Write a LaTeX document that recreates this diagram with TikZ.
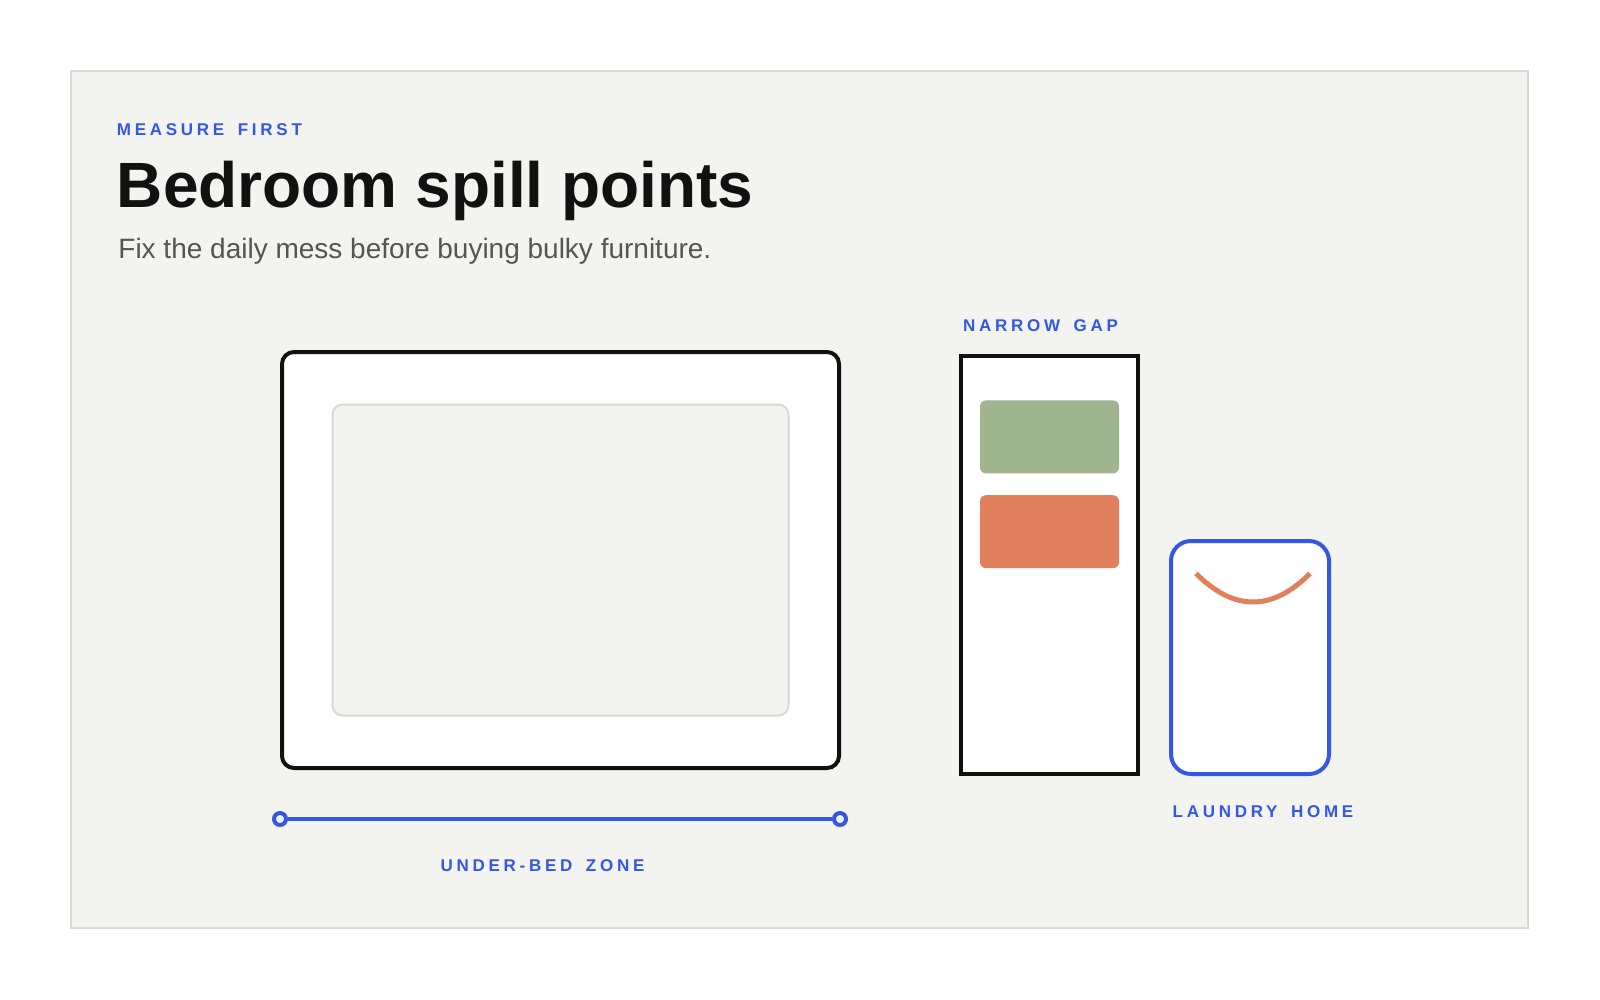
\documentclass[tikz,border=0pt]{standalone}
\usepackage{fontspec}
\setmainfont{Liberation Sans}
\newfontfamily\tagfont[LetterSpace=22,WordSpace=1.6]{Liberation Sans}
\usepackage{tikz}
\usetikzlibrary{positioning, calc}
\usepackage{xcolor}
\definecolor{tagBlue}{HTML}{3457E6}
\definecolor{inkBlack}{HTML}{111111}
\definecolor{subGrey}{HTML}{555555}
\definecolor{panelGrey}{HTML}{F3F3EF}
\definecolor{panelEdge}{HTML}{D8D8D6}
\definecolor{sage}{HTML}{9EB590}
\definecolor{clay}{HTML}{E0805C}
\tikzstyle{furniture} = [%
  rectangle,
  draw=inkBlack,
  line width=2pt,
  fill=white,
  inner sep=0pt
]
\tikzstyle{tag} = [%
  font=\tagfont\bfseries\fontsize{8.5}{10}\selectfont,
  text=tagBlue,
  inner sep=0pt
]

\begin{document}
\begin{tikzpicture}[%
  x=0.5pt, y=-0.5pt,
  shelf/.style={%
    rectangle,
    rounded corners=3pt,
    minimum width=69.5pt,
    minimum height=36.5pt,
    inner sep=0pt
  },
  endcap/.style={%
    circle,
    draw=tagBlue,
    line width=2pt,
    fill=panelGrey,
    minimum size=6pt,
    inner sep=0pt
  },
  zone/.style={draw=tagBlue, line width=2pt},
  handle/.style={draw=clay, line width=2.5pt}
]

  % Canvas and panel
  \useasboundingbox (0,0) rectangle (1600,1000);
  \fill[white] (0,0) rectangle (1600,1000);
  \filldraw[fill=panelGrey, draw=panelEdge, line width=0.8pt] (71,71) rectangle (1528,928);

  % Heading
  \node[tag, anchor=base west] (kicker) at (116.5,135.5) {MEASURE FIRST};
  \node[anchor=base west, inner sep=0pt, font=\bfseries\fontsize{32}{38}\selectfont, text=inkBlack] (title) at (116.5,208) {Bedroom spill points};
  \node[anchor=base west, inner sep=0pt, font=\fontsize{14}{17}\selectfont, text=subGrey] (subtitle) at (118,258) {Fix the daily mess before buying bulky furniture.};

  % Bed
  \node[furniture, rounded corners=6pt, minimum width=278.5pt, minimum height=208pt] (bed) at (560.5,560) {};
  \node[rectangle, draw=panelEdge, line width=1pt, fill=panelGrey, rounded corners=5pt, minimum width=228pt, minimum height=155.5pt] (mattress) at (bed.center) {};

  % Under-bed measure
  \node[endcap] (zoneL) at ($(bed.south west)+(0,49)$) {};
  \node[endcap] (zoneR) at ($(bed.south east)+(-1,49)$) {};
  \draw[zone] (zoneL) -- (zoneR);
  \node[tag, anchor=base] (zoneTag) at ($(bed.south)+(-18,101.5)$) {UNDER-BED ZONE};

  % Narrow gap
  \node[furniture, minimum width=88.5pt, minimum height=209pt] (gap) at (1049.5,565) {};
  \node[tag, above=11.2pt of gap.north, anchor=base, xshift=-4.5pt] (gapTag) {NARROW GAP};
  \node[shelf, fill=sage, below=23pt of gap.north] (shelfA) {};
  \node[shelf, fill=clay, below=10.5pt of shelfA] (shelfB) {};

  % Laundry
  \node[furniture, draw=tagBlue, rounded corners=10pt, minimum width=79pt, minimum height=116.5pt, anchor=south west] (laundry) at ($(gap.south east)+(29,0)$) {};
  \draw[handle] ($(laundry.north)+(-54,34.5)$) .. controls +(38,38) and +(-38,38) .. ($(laundry.north)+(60,34.5)$);
  \node[tag, below=20.7pt of laundry.south, anchor=base, xshift=6.5pt] (laundryTag) {LAUNDRY HOME};

\end{tikzpicture}
\end{document}
